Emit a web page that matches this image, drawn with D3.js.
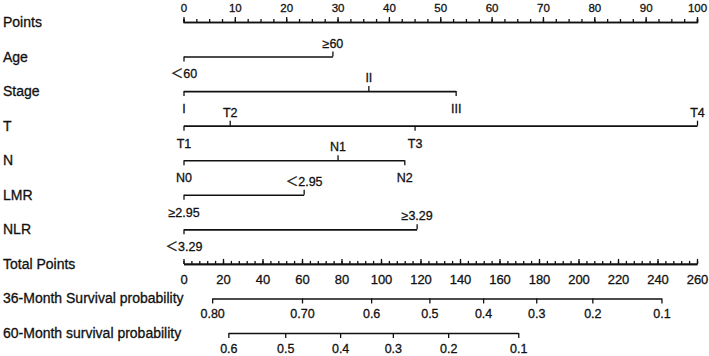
<!DOCTYPE html>
<html>
<head>
<meta charset="utf-8">
<script src="https://cdn.jsdelivr.net/npm/d3@7"></script>
<style>
  body { margin: 0; background: #fff; }
  svg { display: block; }
  text { font-family: "Liberation Sans", Arial, "Noto Sans CJK SC", sans-serif; fill: #111; stroke: #111; stroke-width: 0.3px; }
</style>
</head>
<body>
<svg width="709" height="356"></svg>
<script>
// Row names, top to bottom
const rowNames = ["Points", "Age", "Stage", "T", "N", "LMR", "NLR", "Total Points",
  "36-Month Survival probability", "60-Month survival probability"];

// Points scale ticks
const pointTicks = d3.range(0, 101, 10);
const pointMinor = d3.range(0, 101, 2.5);

// Each predictor: levels and the points they score
const ageLevels = ["＜60", "≥60"];
const agePoints = [0, 29];
const stageLevels = ["I", "II", "III"];
const stagePoints = [0, 36, 53];
const tLevels = ["T1", "T2", "T3", "T4"];
const tPoints = [0, 9, 45, 100];
const nLevels = ["N0", "N1", "N2"];
const nPoints = [0, 30, 43];
const lmrLevels = ["≥2.95", "＜2.95"];
const lmrPoints = [0, 23.4];
const nlrLevels = ["＜3.29", "≥3.29"];
const nlrPoints = [0, 45.4];

// Total points scale ticks
const totalTicks = d3.range(0, 261, 20);
const totalMinor = d3.range(0, 261, 4);

// Survival probabilities and the total points where they sit
const surv36Labels = ["0.80", "0.70", "0.6", "0.5", "0.4", "0.3", "0.2", "0.1"];
const surv36Points = [14.5, 60, 95, 124.5, 151.7, 178.6, 207, 242];
const surv60Labels = ["0.6", "0.5", "0.4", "0.3", "0.2", "0.1"];
const surv60Points = [22.7, 51.5, 79.3, 106, 134, 169.5];

const svg = d3.select("svg");

// scales
const x = d3.scaleLinear().domain([0, 100]).range([183.5, 697]);
const tp = d3.scaleLinear().domain([0, 260]).range([183.5, 697]);
const y = d3.scalePoint().domain(rowNames).range([22, 333]);

// make axis strokes and text look like the original
function styleAxis(g, size) {
  g.attr("font-family", null).attr("font-size", null);
  g.selectAll("path.domain").attr("stroke", "#111").attr("stroke-width", 1.6);
  g.selectAll(".tick line").attr("stroke", "#111").attr("stroke-width", 1.3);
  g.selectAll(".tick text").style("font-size", size + "px").attr("fill", "#111");
}

// row labels on the left
svg.append("g").selectAll("text")
  .data(rowNames)
  .enter().append("text")
    .attr("x", 3)
    .attr("y", d => y(d) + 5)
    .style("font-size", "14px")
    .text(d => d);

// Points axis
svg.append("g")
  .attr("transform", `translate(0,${y("Points")})`)
  .call(d3.axisTop(x).tickValues(pointMinor).tickSize(3).tickFormat(""))
  .call(g => styleAxis(g, 11));
svg.append("g")
  .attr("transform", `translate(0,${y("Points")})`)
  .call(d3.axisTop(x).tickValues(pointTicks).tickSize(5).tickSizeOuter(0).tickPadding(5))
  .call(g => styleAxis(g, 11.5));

// Predictor rows: labels alternate below / above the line
function drawVar(name, levels, pts) {
  const maxP = d3.max(pts);
  const s = d3.scaleLinear().domain([0, maxP]).range([x(0), x(maxP)]);
  const label = new Map(pts.map((p, i) => [p, levels[i]]));
  const below = pts.filter((p, i) => i % 2 === 0);
  const above = pts.filter((p, i) => i % 2 === 1);

  svg.append("g")
    .attr("transform", `translate(0,${y(name)})`)
    .call(d3.axisBottom(s).tickValues(below).tickFormat(d => label.get(d))
      .tickSize(5).tickSizeOuter(0).tickPadding(8))
    .call(g => styleAxis(g, 12.5));

  svg.append("g")
    .attr("transform", `translate(0,${y(name)})`)
    .call(d3.axisTop(s).tickValues(above).tickFormat(d => label.get(d))
      .tickSize(5).tickSizeOuter(0).tickPadding(4))
    .call(g => styleAxis(g, 12.5))
    .call(g => g.select("path.domain").remove());
}

drawVar("Age", ageLevels, agePoints);
drawVar("Stage", stageLevels, stagePoints);
drawVar("T", tLevels, tPoints);
drawVar("N", nLevels, nPoints);
drawVar("LMR", lmrLevels, lmrPoints);
drawVar("NLR", nlrLevels, nlrPoints);

// Total Points axis: ticks up, labels below
svg.append("g")
  .attr("transform", `translate(0,${y("Total Points")})`)
  .call(d3.axisBottom(tp).tickValues(totalMinor).tickSizeInner(-3).tickSizeOuter(0).tickFormat(""))
  .call(g => styleAxis(g, 13));
svg.append("g")
  .attr("transform", `translate(0,${y("Total Points")})`)
  .call(d3.axisBottom(tp).tickValues(totalTicks).tickSizeInner(-5).tickSizeOuter(0).tickPadding(11))
  .call(g => styleAxis(g, 13));

// Survival probability axes, placed on the total points scale
function drawSurv(name, labels, pts) {
  const ext = d3.extent(pts);
  const s = d3.scaleLinear().domain(ext).range(ext.map(tp));
  const label = new Map(pts.map((p, i) => [p, labels[i]]));
  svg.append("g")
    .attr("transform", `translate(0,${y(name)})`)
    .call(d3.axisBottom(s).tickValues(pts).tickFormat(d => label.get(d))
      .tickSize(5).tickSizeOuter(0).tickPadding(6))
    .call(g => styleAxis(g, 12.5));
}

drawSurv("36-Month Survival probability", surv36Labels, surv36Points);
drawSurv("60-Month survival probability", surv60Labels, surv60Points);
</script>
</body>
</html>
